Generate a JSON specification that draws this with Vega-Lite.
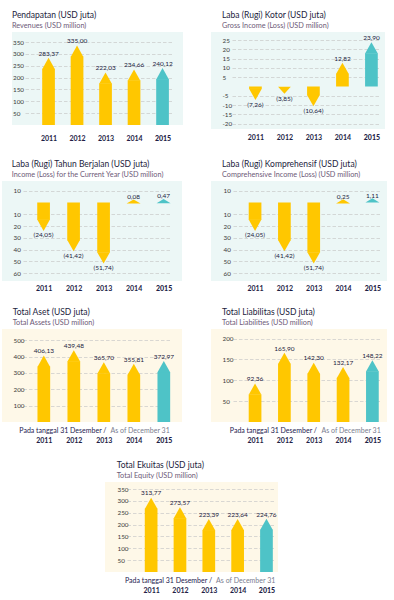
{
 "$schema": "https://vega.github.io/schema/vega-lite/v6.json",
 "padding": {"left": 2, "top": 10, "right": 0, "bottom": 0},
 "background": "#ffffff",
 "config": {
  "font": "Lato",
  "view": {"stroke": null},
  "locale": {"number": {"decimal": ",", "thousands": ".", "grouping": [3], "currency": ["", ""], "minus": "-"}},
  "title": {"anchor": "start", "fontSize": 8.5, "fontWeight": "normal", "color": "#1c1c3c", "subtitleFontSize": 7.3, "subtitleColor": "#6d5a78", "subtitlePadding": 2.5, "offset": 3},
  "axisY": {"domain": false, "ticks": false, "tickSize": 0, "labelAlign": "left", "labelBaseline": "middle", "labelFontSize": 6.3, "labelColor": "#3a3a3a", "gridColor": "#c9c9c9", "gridWidth": 0.7, "labelOverlap": false, "labelFlush": false, "minExtent": 0, "maxExtent": 0},
  "axisX": {"domain": false, "ticks": false, "tickSize": 0, "grid": false, "labelAngle": 0, "labelFontSize": 7, "labelColor": "#1e1e46", "labelBaseline": "top", "labelFontWeight": "bold"},
  "text": {"fontSize": 6.5, "color": "#1b1b40"}
 },
 "datasets": {
  "pendapatan": [{"year": "2011", "v": 283.37}, {"year": "2012", "v": 335.00}, {"year": "2013", "v": 222.03}, {"year": "2014", "v": 234.66}, {"year": "2015", "v": 240.12}],
  "kotor": [{"year": "2011", "v": -7.26}, {"year": "2012", "v": -3.85}, {"year": "2013", "v": -10.64}, {"year": "2014", "v": 12.82}, {"year": "2015", "v": 23.90}],
  "tahun": [{"year": "2011", "v": -24.05}, {"year": "2012", "v": -41.42}, {"year": "2013", "v": -51.74}, {"year": "2014", "v": 0.08}, {"year": "2015", "v": 0.47}],
  "kompre": [{"year": "2011", "v": -24.05}, {"year": "2012", "v": -41.42}, {"year": "2013", "v": -51.74}, {"year": "2014", "v": 0.25}, {"year": "2015", "v": 1.11}],
  "aset": [{"year": "2011", "v": 406.13}, {"year": "2012", "v": 439.48}, {"year": "2013", "v": 365.70}, {"year": "2014", "v": 355.81}, {"year": "2015", "v": 372.97}],
  "liab": [{"year": "2011", "v": 92.36}, {"year": "2012", "v": 165.90}, {"year": "2013", "v": 142.30}, {"year": "2014", "v": 132.17}, {"year": "2015", "v": 148.22}],
  "ekuitas": [{"year": "2011", "v": 313.77}, {"year": "2012", "v": 273.57}, {"year": "2013", "v": 223.39}, {"year": "2014", "v": 223.64}, {"year": "2015", "v": 224.76}]
 },
 "vconcat": [
  {
   "vconcat": [
    {
     "hconcat": [
      {
       "hconcat": [
        {"width": 10, "height": 10, "data": {"values": []}, "mark": "point"},
        {
         "title": {"text": "Pendapatan (USD juta)", "subtitle": "Revenues (USD million)"},
         "width": 171, "height": 93,
         "view": {"fill": "#ECF7F6"},
         "data": {"name": "pendapatan"},
         "encoding": {"y": {"field": "v", "type": "quantitative", "stack": null, "scale": {"domain": [0, 392.4], "nice": false, "zero": false},
           "axis": {"title": null, "values": [50, 100, 150, 200, 250, 300, 350], "labelPadding": -0.5,
            "gridDash": [0,13,3.5,2,3.5,2,3.5,2,3.5,2,3.5,2,3.5,2,3.5,2,3.5,2,3.5,2,3.5,2,3.5,2,3.5,2,3.5,2,3.5,2,3.5,2,3.5,2,3.5,2,3.5,2,3.5,2,3.5,2,3.5,2,3.5,2,3.5,2,3.5,2,3.5,2,3.5,2,3.5,2,0,100]}}},
         "layer": [
          {"mark": {"type": "bar", "width": 12.7, "yOffset": 11},
           "encoding": {"x": {"field": "year", "type": "ordinal", "scale": {"type": "point", "padding": 1.196, "align": 0.641},
             "axis": {"title": null, "labelPadding": 9, "labelFontWeight": {"condition": {"test": "datum.value == '2015'", "value": 900}, "value": "bold"}}},
            "color": {"condition": {"test": "datum.year == '2015'", "value": "#4EC3C7"}, "value": "#FFC700"}}},
          {"mark": {"type": "point", "filled": true, "opacity": 1, "size": 161, "strokeWidth": 0},
           "encoding": {"x": {"field": "year", "type": "ordinal"}, "shape": {"value": "M0,0L1,1.78L-1,1.78Z"},
            "color": {"condition": {"test": "datum.year == '2015'", "value": "#4EC3C7"}, "value": "#FFC700"}}},
          {"mark": {"type": "text", "baseline": "alphabetic", "dy": -2.2},
           "encoding": {"x": {"field": "year", "type": "ordinal"}, "text": {"field": "v", "type": "quantitative", "format": "(.2f"}}},
          {"data": {"values": [{}]}, "mark": {"type": "rule", "color": "#000000", "strokeWidth": 2.2, "xOffset": -41, "x2Offset": 13},
           "encoding": {"x": {"datum": "2011"}, "x2": {"datum": "2015"}, "y": {"datum": 0}}}
         ]
        }
       ],
       "spacing": 0
      },
      {
       "title": {"text": "Laba (Rugi) Kotor (USD juta)", "subtitle": "Gross Income (Loss) (USD million)", "dx": 11},
       "width": 174, "height": 97,
       "view": {"fill": "#ECF7F6"},
       "data": {"name": "kotor"},
       "encoding": {"y": {"field": "v", "type": "quantitative", "stack": null, "scale": {"domain": [-22.94, 29.41], "nice": false, "zero": false},
         "axis": {"title": null, "values": [25, 20, 15, 10, 5, -5, -10, -15, -20], "labelPadding": -11,
          "gridDash": [0,21,3.5,2,3.5,2,3.5,2,3.5,2,3.5,2,3.5,2,3.5,2,3.5,2,3.5,2,3.5,2,3.5,2,3.5,2,3.5,2,3.5,2,3.5,2,3.5,2,3.5,2,3.5,2,3.5,2,3.5,2,3.5,2,3.5,2,3.5,2,3.5,2,3.5,2,3.5,2,3.5,2,0,100]}}},
       "layer": [
        {"transform": [{"filter": "datum.v >= 6"}], "mark": {"type": "bar", "width": 12.7, "yOffset": 11},
         "encoding": {"x": {"field": "year", "type": "ordinal", "scale": {"type": "point", "padding": 1.164, "align": 0.766},
           "axis": {"title": null, "labelPadding": 4, "labelFontWeight": {"condition": {"test": "datum.value == '2015'", "value": 900}, "value": "bold"}}},
          "color": {"condition": {"test": "datum.year == '2015'", "value": "#4EC3C7"}, "value": "#FFC700"}}},
        {"transform": [{"filter": "datum.v <= -6"}], "mark": {"type": "bar", "width": 12.7, "yOffset": -11},
         "encoding": {"x": {"field": "year", "type": "ordinal"},
          "color": {"condition": {"test": "datum.year == '2015'", "value": "#4EC3C7"}, "value": "#FFC700"}}},
        {"mark": {"type": "point", "filled": true, "opacity": 1, "size": 161, "strokeWidth": 0},
         "encoding": {"x": {"field": "year", "type": "ordinal"},
          "shape": {"condition": [{"test": "abs(datum.v) < 6", "value": "M0,0L1,-1.1L-1,-1.1Z"}, {"test": "datum.v < 0", "value": "M0,0L1,-1.78L-1,-1.78Z"}], "value": "M0,0L1,1.78L-1,1.78Z"},
          "color": {"condition": {"test": "datum.year == '2015'", "value": "#4EC3C7"}, "value": "#FFC700"}}},
        {"transform": [{"filter": "datum.v >= 0"}], "mark": {"type": "text", "baseline": "alphabetic", "dy": -2.2},
         "encoding": {"x": {"field": "year", "type": "ordinal"}, "text": {"field": "v", "type": "quantitative", "format": "(.2f"}}},
        {"transform": [{"filter": "datum.v < 0"}], "mark": {"type": "text", "baseline": "alphabetic", "dy": 7},
         "encoding": {"x": {"field": "year", "type": "ordinal"}, "text": {"field": "v", "type": "quantitative", "format": "(.2f"}}},
        {"data": {"values": [{}]}, "mark": {"type": "rule", "color": "#000000", "strokeWidth": 2.2, "xOffset": -28, "x2Offset": 12},
         "encoding": {"x": {"datum": "2011"}, "x2": {"datum": "2015"}, "y": {"datum": 0}}}
       ]
      }
     ],
     "spacing": 28
    },
    {
     "hconcat": [
      {
       "title": {"text": "Laba (Rugi) Tahun Berjalan (USD juta)", "subtitle": "Income (Loss) for the Current Year (USD million)", "dx": 9.7},
       "width": 180, "height": 100,
       "view": {"fill": "#ECF7F6"},
       "data": {"name": "tahun"},
       "encoding": {"y": {"field": "v", "type": "quantitative", "stack": null, "scale": {"domain": [-66.53, 18.22], "nice": false, "zero": false},
         "axis": {"title": null, "values": [10, -10, -20, -30, -40, -50, -60], "labelExpr": "abs(datum.value)", "labelPadding": -11,
          "gridDash": [0,21,3.5,2,3.5,2,3.5,2,3.5,2,3.5,2,3.5,2,3.5,2,3.5,2,3.5,2,3.5,2,3.5,2,3.5,2,3.5,2,3.5,2,3.5,2,3.5,2,3.5,2,3.5,2,3.5,2,3.5,2,3.5,2,3.5,2,3.5,2,3.5,2,3.5,2,3.5,2,3.5,2,0,100]}}},
       "layer": [
        {"transform": [{"filter": "datum.v <= -2"}], "mark": {"type": "bar", "width": 12.7, "yOffset": -11},
         "encoding": {"x": {"field": "year", "type": "ordinal", "scale": {"type": "point", "padding": 1.323, "align": 0.693},
           "axis": {"title": null, "labelPadding": 3.5, "labelFontWeight": {"condition": {"test": "datum.value == '2015'", "value": 900}, "value": "bold"}}},
          "color": {"condition": {"test": "datum.year == '2015'", "value": "#4EC3C7"}, "value": "#FFC700"}}},
        {"mark": {"type": "point", "filled": true, "opacity": 1, "size": 161, "strokeWidth": 0},
         "encoding": {"x": {"field": "year", "type": "ordinal"},
          "shape": {"condition": [{"test": "abs(datum.v) < 2", "value": "M0,-0.47L1.1,0.19L-1.1,0.19Z"}, {"test": "datum.v < 0", "value": "M0,0L1,-1.78L-1,-1.78Z"}], "value": "M0,0L1,1.78L-1,1.78Z"},
          "color": {"condition": {"test": "datum.year == '2015'", "value": "#4EC3C7"}, "value": "#FFC700"}}},
        {"transform": [{"filter": "datum.v >= 0"}], "mark": {"type": "text", "baseline": "alphabetic", "dy": -3.5},
         "encoding": {"x": {"field": "year", "type": "ordinal"}, "text": {"field": "v", "type": "quantitative", "format": "(.2f"}}},
        {"transform": [{"filter": "datum.v < 0"}], "mark": {"type": "text", "baseline": "alphabetic", "dy": 6.5},
         "encoding": {"x": {"field": "year", "type": "ordinal"}, "text": {"field": "v", "type": "quantitative", "format": "(.2f"}}},
        {"data": {"values": [{}]}, "mark": {"type": "rule", "color": "#000000", "strokeWidth": 2.2, "xOffset": -40, "x2Offset": 11.7},
         "encoding": {"x": {"datum": "2011"}, "x2": {"datum": "2015"}, "y": {"datum": 0}}}
       ]
      },
      {
       "title": {"text": "Laba (Rugi) Komprehensif (USD juta)", "subtitle": "Comprehensive Income (Loss) (USD million)", "dx": 11},
       "width": 176, "height": 100,
       "view": {"fill": "#ECF7F6"},
       "data": {"name": "kompre"},
       "encoding": {"y": {"field": "v", "type": "quantitative", "stack": null, "scale": {"domain": [-66.53, 18.22], "nice": false, "zero": false},
         "axis": {"title": null, "values": [10, -10, -20, -30, -40, -50, -60], "labelExpr": "abs(datum.value)", "labelPadding": -12,
          "gridDash": [0,22,3.5,2,3.5,2,3.5,2,3.5,2,3.5,2,3.5,2,3.5,2,3.5,2,3.5,2,3.5,2,3.5,2,3.5,2,3.5,2,3.5,2,3.5,2,3.5,2,3.5,2,3.5,2,3.5,2,3.5,2,3.5,2,3.5,2,3.5,2,3.5,2,3.5,2,3.5,2,3.5,2,0,100]}}},
       "layer": [
        {"transform": [{"filter": "datum.v <= -2"}], "mark": {"type": "bar", "width": 12.7, "yOffset": -11},
         "encoding": {"x": {"field": "year", "type": "ordinal", "scale": {"type": "point", "padding": 1.268, "align": 0.751},
           "axis": {"title": null, "labelPadding": 3.5, "labelFontWeight": {"condition": {"test": "datum.value == '2015'", "value": 900}, "value": "bold"}}},
          "color": {"condition": {"test": "datum.year == '2015'", "value": "#4EC3C7"}, "value": "#FFC700"}}},
        {"mark": {"type": "point", "filled": true, "opacity": 1, "size": 161, "strokeWidth": 0},
         "encoding": {"x": {"field": "year", "type": "ordinal"},
          "shape": {"condition": [{"test": "abs(datum.v) < 2", "value": "M0,-0.47L1.1,0.19L-1.1,0.19Z"}, {"test": "datum.v < 0", "value": "M0,0L1,-1.78L-1,-1.78Z"}], "value": "M0,0L1,1.78L-1,1.78Z"},
          "color": {"condition": {"test": "datum.year == '2015'", "value": "#4EC3C7"}, "value": "#FFC700"}}},
        {"transform": [{"filter": "datum.v >= 0"}], "mark": {"type": "text", "baseline": "alphabetic", "dy": -3.5},
         "encoding": {"x": {"field": "year", "type": "ordinal"}, "text": {"field": "v", "type": "quantitative", "format": "(.2f"}}},
        {"transform": [{"filter": "datum.v < 0"}], "mark": {"type": "text", "baseline": "alphabetic", "dy": 6.5},
         "encoding": {"x": {"field": "year", "type": "ordinal"}, "text": {"field": "v", "type": "quantitative", "format": "(.2f"}}},
        {"data": {"values": [{}]}, "mark": {"type": "rule", "color": "#000000", "strokeWidth": 2.2, "xOffset": -40.6, "x2Offset": 11.7},
         "encoding": {"x": {"datum": "2011"}, "x2": {"datum": "2015"}, "y": {"datum": 0}}}
       ]
      }
     ],
     "spacing": 29
    }
   ],
   "spacing": 18
  },
  {
   "vconcat": [
    {
     "hconcat": [
      {
       "title": {"text": "Total Aset (USD juta)", "subtitle": "Total Assets (USD million)", "dx": 10.7},
       "width": 180, "height": 93,
       "view": {"fill": "#FEF8E8"},
       "data": {"name": "aset"},
       "encoding": {"y": {"field": "v", "type": "quantitative", "stack": null, "scale": {"domain": [0, 568.8], "nice": false, "zero": false},
         "axis": {"title": "As of December 31", "titleAngle": 0, "titleX": 108, "titleY": 101.5, "titleAlign": "left", "titleBaseline": "middle", "titleFontSize": 7, "titleFontWeight": "normal", "titleColor": "#7a7d8f",
          "values": [100, 200, 300, 400, 500], "labelPadding": -11,
          "gridDash": [0,21,3.5,2,3.5,2,3.5,2,3.5,2,3.5,2,3.5,2,3.5,2,3.5,2,3.5,2,3.5,2,3.5,2,3.5,2,3.5,2,3.5,2,3.5,2,3.5,2,3.5,2,3.5,2,3.5,2,3.5,2,3.5,2,3.5,2,3.5,2,3.5,2,3.5,2,3.5,2,3.5,2,0,100]}}},
       "layer": [
        {"mark": {"type": "bar", "width": 12.7, "yOffset": 11},
         "encoding": {"x": {"field": "year", "type": "ordinal", "scale": {"type": "point", "padding": 1.354, "align": 0.697},
           "axis": {"title": "Pada tanggal 31 Desember /", "titleX": 104, "titleY": 8.5, "titleAlign": "right", "titleBaseline": "middle", "titleFontSize": 7, "titleFontWeight": "normal", "titleColor": "#1d2150",
            "labelPadding": 14.5, "labelFontWeight": {"condition": {"test": "datum.value == '2015'", "value": 900}, "value": "bold"}}},
          "color": {"condition": {"test": "datum.year == '2015'", "value": "#4EC3C7"}, "value": "#FFC700"}}},
        {"mark": {"type": "point", "filled": true, "opacity": 1, "size": 161, "strokeWidth": 0},
         "encoding": {"x": {"field": "year", "type": "ordinal"}, "shape": {"value": "M0,0L1,1.78L-1,1.78Z"},
          "color": {"condition": {"test": "datum.year == '2015'", "value": "#4EC3C7"}, "value": "#FFC700"}}},
        {"mark": {"type": "text", "baseline": "alphabetic", "dy": -2.2},
         "encoding": {"x": {"field": "year", "type": "ordinal"}, "text": {"field": "v", "type": "quantitative", "format": "(.2f"}}},
        {"data": {"values": [{}]}, "mark": {"type": "rule", "color": "#000000", "strokeWidth": 2.2, "xOffset": -41, "x2Offset": 12.7},
         "encoding": {"x": {"datum": "2011"}, "x2": {"datum": "2015"}, "y": {"datum": 0}}}
       ]
      },
      {
       "title": {"text": "Total Liabilitas (USD juta)", "subtitle": "Total Liabilities (USD million)", "dx": 11},
       "width": 176, "height": 93,
       "view": {"fill": "#FEF8E8"},
       "data": {"name": "liab"},
       "encoding": {"y": {"field": "v", "type": "quantitative", "stack": null, "scale": {"domain": [0, 223], "nice": false, "zero": false},
         "axis": {"title": "As of December 31", "titleAngle": 0, "titleX": 110, "titleY": 101.5, "titleAlign": "left", "titleBaseline": "middle", "titleFontSize": 7, "titleFontWeight": "normal", "titleColor": "#7a7d8f",
          "values": [50, 100, 150, 200], "labelPadding": -11,
          "gridDash": [0,22,3.5,2,3.5,2,3.5,2,3.5,2,3.5,2,3.5,2,3.5,2,3.5,2,3.5,2,3.5,2,3.5,2,3.5,2,3.5,2,3.5,2,3.5,2,3.5,2,3.5,2,3.5,2,3.5,2,3.5,2,3.5,2,3.5,2,3.5,2,3.5,2,3.5,2,3.5,2,3.5,2,0,100]}}},
       "layer": [
        {"mark": {"type": "bar", "width": 12.7, "yOffset": 11},
         "encoding": {"x": {"field": "year", "type": "ordinal", "scale": {"type": "point", "padding": 1.268, "align": 0.751},
           "axis": {"title": "Pada tanggal 31 Desember /", "titleX": 105.5, "titleY": 8.5, "titleAlign": "right", "titleBaseline": "middle", "titleFontSize": 7, "titleFontWeight": "normal", "titleColor": "#1d2150",
            "labelPadding": 14.5, "labelFontWeight": {"condition": {"test": "datum.value == '2015'", "value": 900}, "value": "bold"}}},
          "color": {"condition": {"test": "datum.year == '2015'", "value": "#4EC3C7"}, "value": "#FFC700"}}},
        {"mark": {"type": "point", "filled": true, "opacity": 1, "size": 161, "strokeWidth": 0},
         "encoding": {"x": {"field": "year", "type": "ordinal"}, "shape": {"value": "M0,0L1,1.78L-1,1.78Z"},
          "color": {"condition": {"test": "datum.year == '2015'", "value": "#4EC3C7"}, "value": "#FFC700"}}},
        {"mark": {"type": "text", "baseline": "alphabetic", "dy": -2.2},
         "encoding": {"x": {"field": "year", "type": "ordinal"}, "text": {"field": "v", "type": "quantitative", "format": "(.2f"}}},
        {"data": {"values": [{}]}, "mark": {"type": "rule", "color": "#000000", "strokeWidth": 2.2, "xOffset": -40.6, "x2Offset": 11.7},
         "encoding": {"x": {"datum": "2011"}, "x2": {"datum": "2015"}, "y": {"datum": 0}}}
       ]
      }
     ],
     "spacing": 29
    },
    {
     "hconcat": [
      {"width": 103, "height": 10, "data": {"values": []}, "mark": "point"},
      {
       "title": {"text": "Total Ekuitas (USD juta)", "subtitle": "Total Equity (USD million)", "dx": 11.7},
       "width": 173, "height": 90,
       "view": {"fill": "#FEF8E8"},
       "data": {"name": "ekuitas"},
       "encoding": {"y": {"field": "v", "type": "quantitative", "stack": null, "scale": {"domain": [0, 379.7], "nice": false, "zero": false},
         "axis": {"title": "As of December 31", "titleAngle": 0, "titleX": 110.6, "titleY": 98, "titleAlign": "left", "titleBaseline": "middle", "titleFontSize": 7, "titleFontWeight": "normal", "titleColor": "#7a7d8f",
          "values": [50, 100, 150, 200, 250, 300, 350], "labelPadding": -12,
          "gridDash": [0,22,3.5,2,3.5,2,3.5,2,3.5,2,3.5,2,3.5,2,3.5,2,3.5,2,3.5,2,3.5,2,3.5,2,3.5,2,3.5,2,3.5,2,3.5,2,3.5,2,3.5,2,3.5,2,3.5,2,3.5,2,3.5,2,3.5,2,3.5,2,3.5,2,3.5,2,3.5,2,3.5,2,0,100]}}},
       "layer": [
        {"mark": {"type": "bar", "width": 12.7, "yOffset": 11},
         "encoding": {"x": {"field": "year", "type": "ordinal", "scale": {"type": "point", "padding": 1.204, "align": 0.8},
           "axis": {"title": "Pada tanggal 31 Desember /", "titleX": 106.6, "titleY": 8, "titleAlign": "right", "titleBaseline": "middle", "titleFontSize": 7, "titleFontWeight": "normal", "titleColor": "#1d2150",
            "labelPadding": 14, "labelFontWeight": {"condition": {"test": "datum.value == '2015'", "value": 900}, "value": "bold"}}},
          "color": {"condition": {"test": "datum.year == '2015'", "value": "#4EC3C7"}, "value": "#FFC700"}}},
        {"mark": {"type": "point", "filled": true, "opacity": 1, "size": 161, "strokeWidth": 0},
         "encoding": {"x": {"field": "year", "type": "ordinal"}, "shape": {"value": "M0,0L1,1.78L-1,1.78Z"},
          "color": {"condition": {"test": "datum.year == '2015'", "value": "#4EC3C7"}, "value": "#FFC700"}}},
        {"mark": {"type": "text", "baseline": "alphabetic", "dy": -2.2},
         "encoding": {"x": {"field": "year", "type": "ordinal"}, "text": {"field": "v", "type": "quantitative", "format": "(.2f"}}},
        {"data": {"values": [{}]}, "mark": {"type": "rule", "color": "#000000", "strokeWidth": 2.2, "xOffset": -40.3, "x2Offset": 11.7},
         "encoding": {"x": {"datum": "2011"}, "x2": {"datum": "2015"}, "y": {"datum": 0}}}
       ]
      }
     ],
     "spacing": 0
    }
   ],
   "spacing": 16
  }
 ],
 "spacing": 15
}
